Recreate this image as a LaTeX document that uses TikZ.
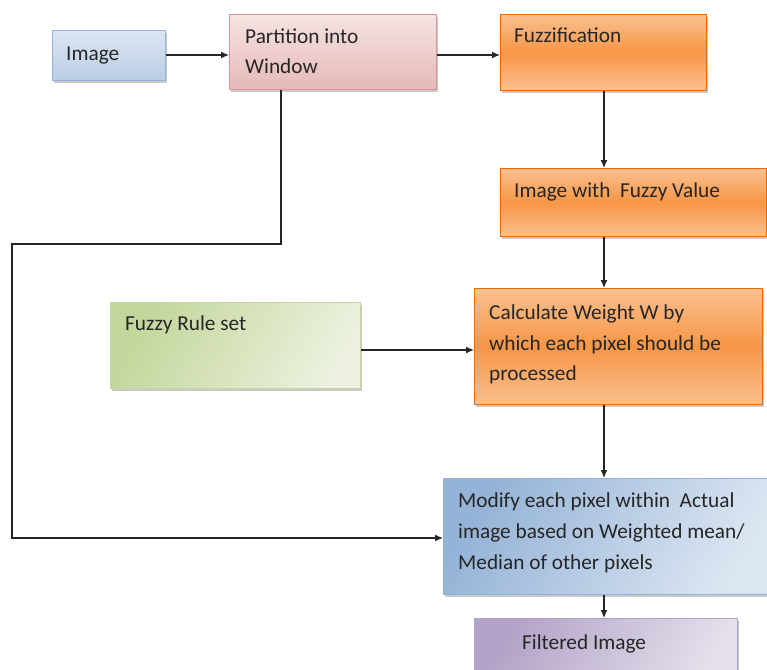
\documentclass[tikz,border=0pt]{standalone}
\usepackage{fontspec}
\setmainfont{Carlito}
\usetikzlibrary{arrows.meta,shadows}
\definecolor{bluelt}{HTML}{DCE6F2}
\definecolor{bluedk}{HTML}{B9CDE5}
\definecolor{blueln}{HTML}{95B3D7}
\definecolor{pinklt}{HTML}{F5E4E3}
\definecolor{pinkdk}{HTML}{E6B9B8}
\definecolor{pinkln}{HTML}{D99694}
\definecolor{orng}{HTML}{F79646}
\definecolor{orlt}{HTML}{FAC090}
\definecolor{orln}{HTML}{E46C0A}
\definecolor{grdk}{HTML}{C3D69B}
\definecolor{grlt}{HTML}{EBF1DE}
\definecolor{purdk}{HTML}{B3A2C7}
\definecolor{purlt}{HTML}{E5E0EC}
\tikzset{
  box/.style={rectangle, anchor=north west, inner sep=0pt, line width=1pt,
    drop shadow={shadow xshift=1pt, shadow yshift=-2.5pt, fill=black!35, opacity=0.6}},
  txt/.style={anchor=base west, inner sep=0pt, font=\fontsize{21.3}{25}\selectfont, text=black!85},
  arr/.style={-{Latex[length=8pt,width=7pt]}, line width=1.2pt, black!85},
}
\begin{document}
\begin{tikzpicture}[x=1pt,y=-1pt]
\clip (0,0) rectangle (767,669);
\fill[white] (0,0) rectangle (767,669);
% boxes
\node[box, draw=blueln, top color=bluelt, bottom color=bluedk, minimum width=113pt, minimum height=50pt] (img) at (52,30) {};
\node[box, draw=pinkln, top color=pinklt, bottom color=pinkdk, minimum width=207pt, minimum height=75pt] (part) at (229,14) {};
\node[box, draw=orln, top color=orlt, bottom color=orlt, middle color=orng, minimum width=206pt, minimum height=76pt] (fuzz) at (500,14) {};
\node[box, draw=orln, top color=orlt, bottom color=orlt, middle color=orng, minimum width=266pt, minimum height=68pt] (ifv) at (500,168) {};
\node[box, draw=grdk, left color=grdk, right color=grlt, shading angle=60, minimum width=250pt, minimum height=86pt] (rule) at (110,302) {};
\node[box, draw=orln, top color=orlt, bottom color=orlt, middle color=orng, minimum width=288pt, minimum height=116pt] (calc) at (474,288) {};
\node[box, draw=blueln, left color=blueln, right color=bluelt, shading angle=60, minimum width=330pt, minimum height=116pt] (mod) at (443,478) {};
\node[box, draw=purdk, left color=purdk, right color=purlt, shading angle=60, minimum width=263pt, minimum height=70pt] (filt) at (474,618) {};
% texts
\node[txt] (t1) at (66,60) {Image};
\node[txt] (t2) at (245,44) {Partition into};
\node[txt] (t3) at (245,74) {Window};
\node[txt] (t4) at (514,42) {Fuzzification};
\node[txt] (t5) at (514,197) {Image with\ \ Fuzzy Value};
\node[txt] (t6) at (125,330) {Fuzzy Rule set};
\node[txt] (t7) at (489,319) {Calculate Weight W by};
\node[txt] (t8) at (489,350) {which each pixel should be};
\node[txt] (t9) at (489,380) {processed};
\node[txt] (t10) at (458,507) {Modify each pixel within\ \ Actual};
\node[txt] (t11) at (458,538) {image based on Weighted mean/};
\node[txt] (t12) at (458,569) {Median of other pixels};
\node[txt] (t13) at (522,649) {Filtered Image};
% connectors
\coordinate (c1) at (281,244);
\coordinate (c2) at (12,244);
\coordinate (c3) at (12,538);
\draw[arr] (img.east |- 0,55) -- (part.west |- 0,55);
\draw[arr] (part.east |- 0,55) -- (fuzz.west |- 0,55);
\draw[arr] (fuzz.south -| 604,0) -- (ifv.north -| 604,0);
\draw[arr] (ifv.south -| 604,0) -- (calc.north -| 604,0);
\draw[arr] (rule.east |- 0,350) -- (calc.west |- 0,350);
\draw[arr] (calc.south -| 604,0) -- (mod.north -| 604,0);
\draw[arr] (mod.south -| 604,0) -- (filt.north -| 604,0);
\draw[arr] (part.south -| c1) -- (c1) -- (c2) -- (c3) -- (mod.west |- c3);
\end{tikzpicture}
\end{document}
